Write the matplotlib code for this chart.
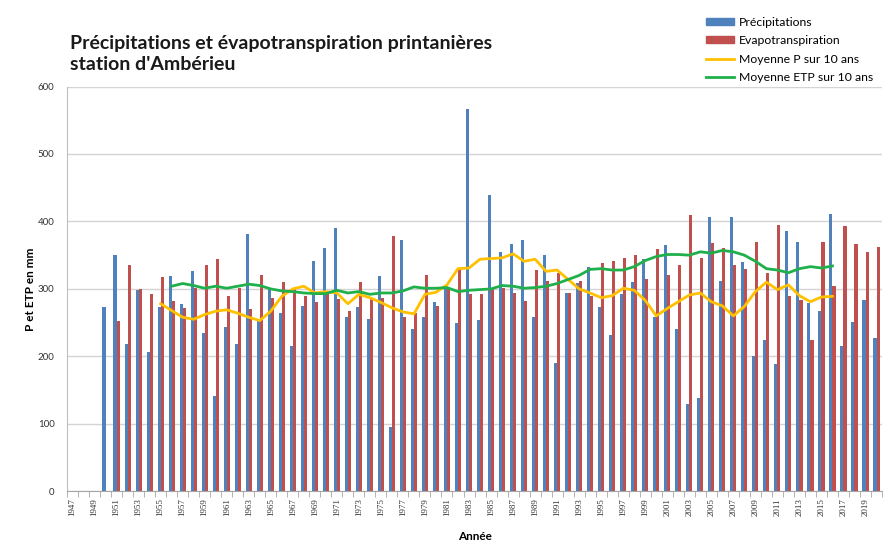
import numpy as np
import matplotlib
matplotlib.use('Agg')
import matplotlib.pyplot as plt
from matplotlib.patches import Patch
from matplotlib.lines import Line2D

# ----------------------
# Données
# ----------------------

annees = np.arange(1947, 2021)

# Précipitations printanières (mm), 1950 -> 2020
precip = [273, 350, 218, 298, 207, 273, 319, 278, 326, 235,
          141, 244, 218, 382, 252, 300, 264, 216, 275, 341,
          361, 390, 259, 273, 255, 319, 95, 373, 240, 258,
          280, 303, 250, 567, 254, 439, 354, 366, 372, 258,
          350, 190, 294, 309, 332, 273, 232, 292, 310, 345,
          258, 365, 240, 130, 138, 406, 311, 406, 340, 200,
          225, 189, 386, 370, 279, 268, 411, 215, 251, 284,
          227]

# Evapotranspiration (mm), 1951 -> 2020
etp = [252, 336, 300, 292, 317, 282, 272, 301, 336, 345,
       290, 301, 270, 320, 287, 310, 300, 289, 280, 294,
       285, 268, 310, 287, 287, 378, 259, 264, 321, 275,
       300, 330, 292, 292, 300, 301, 294, 282, 328, 311,
       324, 294, 311, 289, 339, 341, 346, 350, 315, 359,
       320, 336, 409, 346, 368, 361, 336, 329, 370, 324,
       395, 289, 284, 225, 370, 305, 393, 367, 355, 362]

# Moyenne P sur 10 ans, 1955 -> 2016
moy_p = [278, 268, 258, 255, 262, 267, 269, 264, 258, 253,
         267, 289, 300, 304, 294, 296, 294, 278, 292, 287,
         280, 272, 266, 263, 292, 295, 306, 330, 331, 344,
         345, 346, 352, 341, 344, 326, 328, 314, 300, 294,
         287, 290, 301, 298, 283, 260, 271, 281, 291, 294,
         281, 275, 260, 274, 296, 310, 299, 306, 290, 281,
         288, 289]

# Moyenne ETP sur 10 ans, 1956 -> 2016
moy_etp = [304, 308, 305, 301, 304, 301, 304, 307, 305, 300,
           297, 296, 294, 293, 293, 298, 294, 296, 292, 294,
           294, 297, 303, 301, 301, 302, 296, 298, 299, 300,
           305, 304, 301, 302, 304, 308, 314, 320, 329, 330,
           328, 328, 333, 342, 348, 351, 351, 350, 355, 353,
           357, 355, 350, 341, 330, 328, 324, 330, 333, 331,
           334]

# ----------------------
# Mise en forme des séries
# ----------------------

def serie(valeurs, debut):
    s = np.full(len(annees), np.nan)
    i0 = debut - annees[0]
    s[i0:i0 + len(valeurs)] = valeurs
    return s

P = serie(precip, 1950)
E = serie(etp, 1951)
MP = serie(moy_p, 1955)
ME = serie(moy_etp, 1956)

x = np.arange(len(annees))

c_bleu = '#4F81BD'
c_rouge = '#C0504D'
c_jaune = '#FFC000'
c_vert = '#1FAF4B'

plt.rcParams['font.family'] = ['Lato', 'DejaVu Sans']

fig = plt.figure(figsize=(8.83, 5.51), dpi=100)
ax = fig.add_axes([0.0759, 0.1083, 0.923, 0.7347])

larg = 0.28
ax.bar(x - larg / 2, P, width=larg, color=c_bleu, zorder=2)
ax.bar(x + larg / 2, E, width=larg, color=c_rouge, zorder=2)
ax.plot(x, MP, color=c_jaune, lw=2, zorder=3)
ax.plot(x, ME, color=c_vert, lw=2, zorder=3)

ax.set_xlim(-0.5, len(annees) - 0.5)
ax.set_ylim(0, 600)
ax.set_yticks(range(0, 601, 100))
ax.yaxis.grid(True, color='#D4D4D4', lw=1)
ax.set_axisbelow(True)

# étiquettes une année sur deux, tirets entre les catégories
impairs = [i for i, a in enumerate(annees) if a % 2 == 1]
ax.set_xticks(impairs)
ax.set_xticklabels([str(annees[i]) for i in impairs], rotation=90,
                   fontsize=6.5, family=['Liberation Serif', 'DejaVu Serif'],
                   color='#333333')
ax.set_xticks(np.arange(-0.5, len(annees), 1), minor=True)
ax.tick_params(axis='x', which='major', length=0, pad=5)
ax.tick_params(axis='x', which='minor', length=4, color='#A6A6A6')
ax.tick_params(axis='y', length=0, labelsize=7, colors='#333333', pad=9)

for s in ['top', 'right']:
    ax.spines[s].set_visible(False)
ax.spines['left'].set_color('#BFBFBF')
ax.spines['bottom'].set_color('#A6A6A6')

ax.set_xlabel('Année', fontsize=8.5, fontweight='bold', labelpad=11)
ax.set_ylabel('P et ETP en mm', fontsize=8.5, fontweight='bold', labelpad=1)

fig.text(70 / 883, 1 - 54 / 551,
         "Précipitations et évapotranspiration printanières\nstation d'Ambérieu",
         fontsize=14, fontweight='bold', va='center', ha='left',
         linespacing=1.35, color='#1a1a1a')

poignees = [Patch(color=c_bleu), Patch(color=c_rouge),
            Line2D([], [], color=c_jaune, lw=2),
            Line2D([], [], color=c_vert, lw=2)]
noms = ['Précipitations', 'Evapotranspiration',
        'Moyenne P sur 10 ans', 'Moyenne ETP sur 10 ans']
leg = fig.legend(poignees, noms, loc='upper left',
                 bbox_to_anchor=(697 / 883, 1 - 8 / 551), frameon=False,
                 fontsize=8.8, handlelength=2.3, handleheight=0.5,
                 handletextpad=0.4, labelspacing=0.62, borderpad=0.2)

fig.savefig('out.png', dpi=100)
